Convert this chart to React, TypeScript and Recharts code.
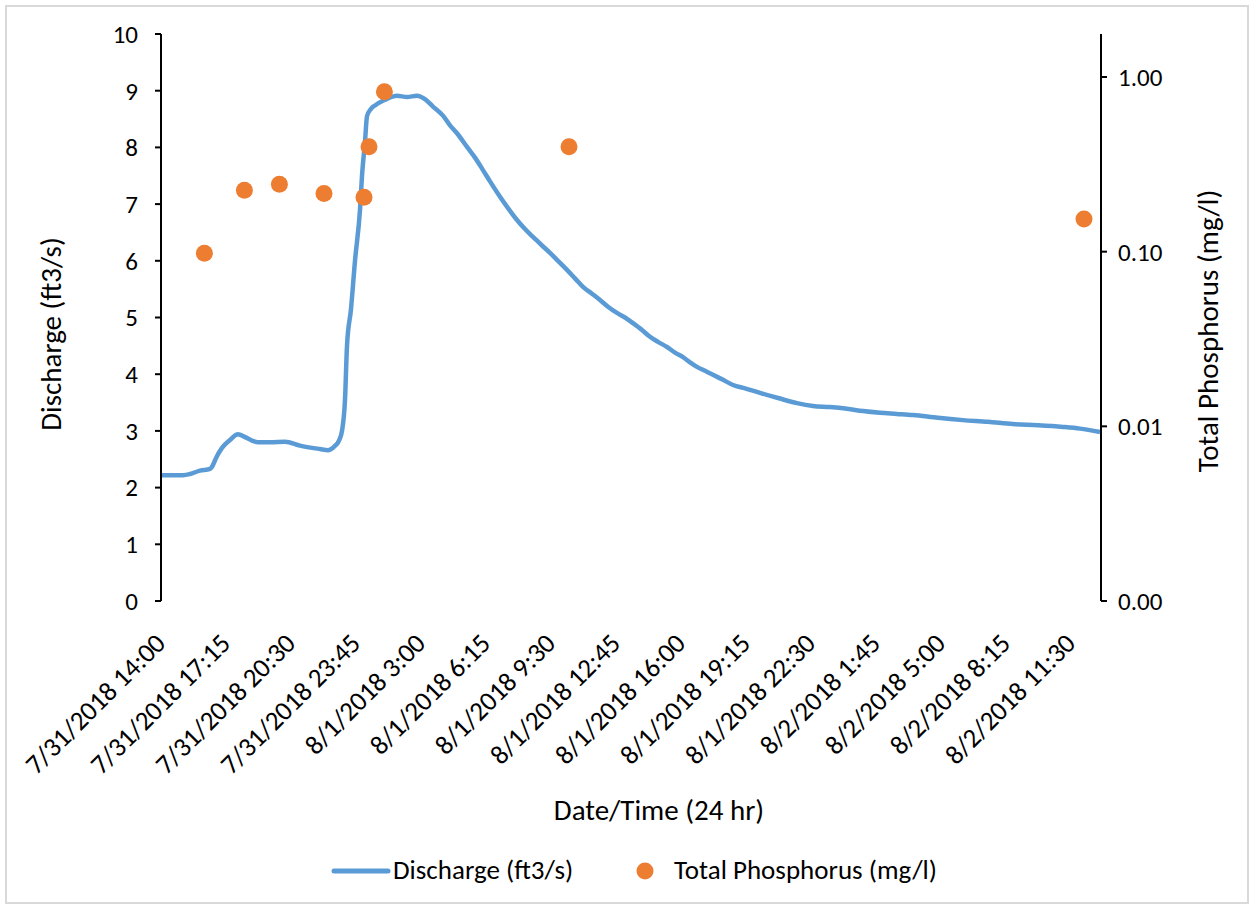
import React from 'react';
import { ComposedChart, Line, Scatter, XAxis, YAxis, Legend, Label } from 'recharts';

// Hours since 7/31/2018 14:00
const dischargeHours = [0, 1.1, 1.45, 1.95, 2.45, 2.6, 2.75, 3.05, 3.45, 3.85, 4.2, 4.55, 4.85, 5.45, 6.2, 6.95, 7.95, 8.35, 8.65, 8.9, 9.05, 9.2, 9.3, 9.5, 9.7, 9.95, 10.05, 10.2, 10.3, 10.5, 10.7, 11.2, 11.8, 12.3, 12.8, 13.2, 13.6, 14.1, 14.45, 14.8, 15.3, 15.7, 16.1, 16.45, 16.95, 17.35, 17.8, 18.2, 18.6, 19.05, 19.45, 19.85, 20.3, 20.7, 21.1, 21.55, 21.95, 22.35, 22.8, 23.2, 23.6, 24.05, 24.45, 24.85, 25.3, 25.7, 26.1, 26.45, 26.8, 27.2, 27.6, 28.1, 28.6, 29.2, 29.95, 30.85, 31.8, 32.6, 33.45, 34.3, 35.1, 35.95, 36.8, 37.6, 38.85, 40.1, 41.35, 42.6, 43.85, 45.1, 45.95, 46.95];
const dischargeValues = [2.22, 2.22, 2.24, 2.3, 2.33, 2.4, 2.52, 2.7, 2.84, 2.94, 2.89, 2.83, 2.8, 2.8, 2.81, 2.74, 2.68, 2.66, 2.72, 2.83, 3.0, 3.55, 4.5, 5.15, 6.0, 6.9, 7.5, 8.1, 8.55, 8.68, 8.74, 8.84, 8.91, 8.89, 8.91, 8.85, 8.72, 8.56, 8.39, 8.25, 8.01, 7.82, 7.6, 7.4, 7.13, 6.93, 6.72, 6.56, 6.42, 6.27, 6.14, 6.0, 5.84, 5.69, 5.54, 5.42, 5.31, 5.19, 5.08, 5.0, 4.9, 4.78, 4.66, 4.57, 4.48, 4.38, 4.3, 4.21, 4.13, 4.06, 3.99, 3.9, 3.81, 3.75, 3.67, 3.58, 3.49, 3.44, 3.42, 3.39, 3.35, 3.32, 3.3, 3.28, 3.23, 3.19, 3.16, 3.12, 3.1, 3.07, 3.04, 2.98];

const phosphorusHours = [2.17, 4.17, 5.92, 8.15, 10.15, 10.4, 11.17, 20.4, 46.15];
const phosphorusValues = [0.098, 0.2245, 0.243, 0.215, 0.205, 0.399, 0.824, 0.399, 0.154];

const labelTicks = [0, 3.25, 6.5, 9.75, 13, 16.25, 19.5, 22.75, 26, 29.25, 32.5, 35.75, 39, 42.25, 45.5];
const markTicks = [0, 6.25, 12.5, 18.75, 25, 31.25, 37.5, 43.75];
const leftTicks = [0, 1, 2, 3, 4, 5, 6, 7, 8, 9, 10];
const rightTicks = [0.001, 0.01, 0.1, 1];

const dischargeData = dischargeHours.map((t, i) => ({ t, q: dischargeValues[i] }));
const phosphorusData = phosphorusHours.map((t, i) => ({ t, p: phosphorusValues[i] }));

const FONT = 'Carlito, Calibri, Lato, "Open Sans", sans-serif';
const BLUE = '#5B9BD5';
const ORANGE = '#ED7D31';
const X_DOMAIN: [number, number] = [0, 47];
const AX = { stroke: '#000', strokeWidth: 2 };

function fmtTime(h: number): string {
  const total = 14 * 60 + Math.round(h * 60);
  let day = 31 + Math.floor(total / 1440);
  let month = 7;
  if (day > 31) { month = 8; day -= 31; }
  const m = total % 1440;
  const hh = Math.floor(m / 60);
  const mm = m % 60;
  return `${month}/${day}/2018 ${hh}:${mm < 10 ? '0' + mm : mm}`;
}

const XTick = (props: any) => {
  const { x, y, payload } = props;
  const ax = x + 6;
  const ay = y + 36;
  return (
    <text x={ax} y={ay} textAnchor="end" fontSize={27} fontFamily={FONT} fill="#000" transform={`rotate(-45, ${ax}, ${ay})`}>
      {fmtTime(payload.value)}
    </text>
  );
};

const LegendContent = () => (
  <div style={{ position: 'relative', width: 1250, height: 30, fontFamily: FONT, fontSize: 27, color: '#000', whiteSpace: 'nowrap' }}>
    <svg width={60} height={10} style={{ position: 'absolute', left: 331, top: 10 }}>
      <line x1={3} y1={5} x2={57} y2={5} stroke={BLUE} strokeWidth={5} strokeLinecap="round" />
    </svg>
    <span style={{ position: 'absolute', left: 393, top: -3, lineHeight: '34px' }}>Discharge (ft3/s)</span>
    <svg width={20} height={20} style={{ position: 'absolute', left: 635, top: 5 }}>
      <circle cx={10} cy={10} r={8.5} fill={ORANGE} />
    </svg>
    <span style={{ position: 'absolute', left: 674, top: -3, lineHeight: '34px' }}>Total Phosphorus (mg/l)</span>
  </div>
);

export default function App() {
  return (
    <div style={{ position: 'absolute', left: 0, top: 0, width: 1250, height: 907, background: '#fff' }}>
      <div style={{ position: 'absolute', left: 5, top: 5, width: 1240, height: 895, border: '2px solid #d9d9d9' }} />
      <div style={{ position: 'absolute', left: 0, top: 0 }}>
        <ComposedChart width={1250} height={907} margin={{ top: 34, right: 89, bottom: 106, left: 101 }}>
          <XAxis
            dataKey="t"
            type="number"
            domain={X_DOMAIN}
            ticks={markTicks}
            allowDataOverflow
            interval={0}
            height={0}
            tick={() => <g />}
            tickSize={6}
            axisLine={AX}
            tickLine={AX}
          />
          <XAxis
            xAxisId="labels"
            dataKey="t"
            type="number"
            domain={X_DOMAIN}
            ticks={labelTicks}
            allowDataOverflow
            interval={0}
            height={200}
            tick={<XTick />}
            tickLine={false}
            axisLine={false}
          >
            <Label
              content={() => (
                <text x={659} y={820} textAnchor="middle" fontSize={29} fontFamily={FONT} fill="#000">Date/Time (24 hr)</text>
              )}
            />
          </XAxis>
          <XAxis xAxisId="top" orientation="top" type="number" domain={X_DOMAIN} dataKey="t" height={0} tick={false} tickLine={false} axisLine={AX} />
          <YAxis
            yAxisId="left"
            domain={[0, 10]}
            ticks={leftTicks}
            interval={0}
            width={60}
            tickSize={6}
            tick={{ fontSize: 25, fontFamily: FONT, fill: '#000' }}
            tickMargin={17}
            axisLine={AX}
            tickLine={AX}
          >
            <Label
              content={() => (
                <text x={61} y={334} textAnchor="middle" fontSize={29} fontFamily={FONT} fill="#000" transform="rotate(-90, 61, 334)">Discharge (ft3/s)</text>
              )}
            />
          </YAxis>
          <YAxis
            yAxisId="right"
            orientation="right"
            scale="log"
            domain={[0.001, 1.763]}
            allowDataOverflow
            ticks={rightTicks}
            interval={0}
            width={60}
            tickSize={6}
            tickFormatter={(v: number) => v.toFixed(2)}
            tick={{ fontSize: 25, fontFamily: FONT, fill: '#000' }}
            tickMargin={11}
            axisLine={AX}
            tickLine={AX}
          >
            <Label
              content={() => (
                <text x={1218} y={331} textAnchor="middle" fontSize={29} fontFamily={FONT} fill="#000" transform="rotate(-90, 1218, 331)">Total Phosphorus (mg/l)</text>
              )}
            />
          </YAxis>
          <Line
            yAxisId="left"
            data={dischargeData}
            dataKey="q"
            type="monotone"
            stroke={BLUE}
            strokeWidth={4.5}
            dot={false}
            isAnimationActive={false}
            name="Discharge (ft3/s)"
          />
          <Scatter
            yAxisId="right"
            data={phosphorusData}
            dataKey="p"
            fill={ORANGE}
            isAnimationActive={false}
            name="Total Phosphorus (mg/l)"
            shape={(p: any) => <circle cx={p.cx} cy={p.cy} r={8.5} fill={ORANGE} />}
          />
          <Legend
            layout="horizontal"
            verticalAlign="middle"
            align="center"
            wrapperStyle={{ position: 'absolute', top: 856, left: 0, width: 1250 }}
            content={<LegendContent />}
          />
        </ComposedChart>
      </div>
    </div>
  );
}
